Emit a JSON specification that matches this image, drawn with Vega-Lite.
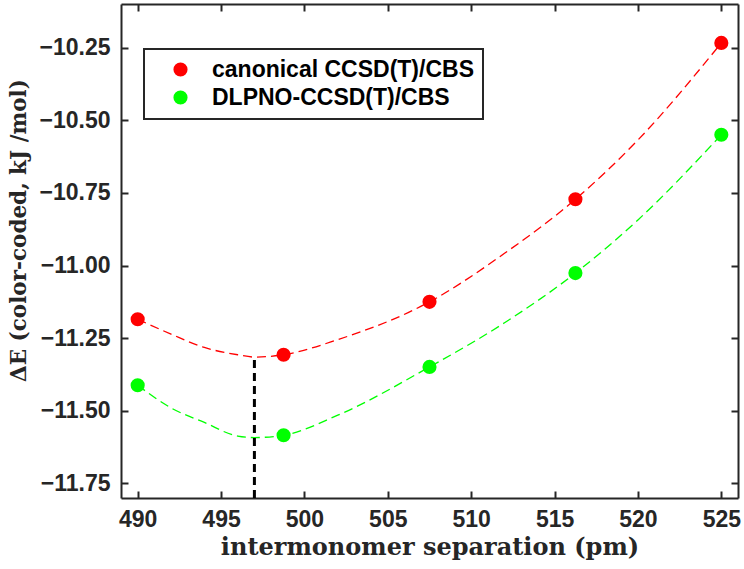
{
  "$schema": "https://vega.github.io/schema/vega-lite/v6.json",
  "width": 617,
  "height": 494,
  "autosize": {"type": "none"},
  "padding": {"left": 121, "top": 4, "right": 6, "bottom": 71},
  "background": "white",
  "config": {
    "view": {"stroke": null},
    "legend": {"strokeWidth": 2},
    "axis": {
      "domainColor": "#262626",
      "domainWidth": 2,
      "tickColor": "#262626",
      "tickWidth": 2,
      "tickSize": -7,
      "grid": false,
      "labelFont": "Liberation Sans",
      "labelFontWeight": "bold",
      "labelFontSize": 23,
      "labelColor": "#262626",
      "titleFont": "DejaVu Serif",
      "titleFontWeight": "bold",
      "titleFontSize": 22,
      "titleColor": "#262626"
    }
  },
  "datasets": {
    "points": [
      {"sep": 490.0, "dE": -11.185, "method": "canonical CCSD(T)/CBS"},
      {"sep": 498.75, "dE": -11.307, "method": "canonical CCSD(T)/CBS"},
      {"sep": 507.5, "dE": -11.125, "method": "canonical CCSD(T)/CBS"},
      {"sep": 516.25, "dE": -10.772, "method": "canonical CCSD(T)/CBS"},
      {"sep": 525.0, "dE": -10.234, "method": "canonical CCSD(T)/CBS"},
      {"sep": 490.0, "dE": -11.412, "method": "DLPNO-CCSD(T)/CBS"},
      {"sep": 498.75, "dE": -11.584, "method": "DLPNO-CCSD(T)/CBS"},
      {"sep": 507.5, "dE": -11.349, "method": "DLPNO-CCSD(T)/CBS"},
      {"sep": 516.25, "dE": -11.026, "method": "DLPNO-CCSD(T)/CBS"},
      {"sep": 525.0, "dE": -10.55, "method": "DLPNO-CCSD(T)/CBS"}
    ],
    "curves": [
      {"sep": 490, "dE": -11.185, "method": "canonical CCSD(T)/CBS"},
      {"sep": 492, "dE": -11.236, "method": "canonical CCSD(T)/CBS"},
      {"sep": 494, "dE": -11.282, "method": "canonical CCSD(T)/CBS"},
      {"sep": 496, "dE": -11.307, "method": "canonical CCSD(T)/CBS"},
      {"sep": 497, "dE": -11.315, "method": "canonical CCSD(T)/CBS"},
      {"sep": 498.75, "dE": -11.307, "method": "canonical CCSD(T)/CBS"},
      {"sep": 502, "dE": -11.255, "method": "canonical CCSD(T)/CBS"},
      {"sep": 507.5, "dE": -11.125, "method": "canonical CCSD(T)/CBS"},
      {"sep": 512, "dE": -10.958, "method": "canonical CCSD(T)/CBS"},
      {"sep": 516.25, "dE": -10.772, "method": "canonical CCSD(T)/CBS"},
      {"sep": 520, "dE": -10.568, "method": "canonical CCSD(T)/CBS"},
      {"sep": 525, "dE": -10.234, "method": "canonical CCSD(T)/CBS"},
      {"sep": 490, "dE": -11.412, "method": "DLPNO-CCSD(T)/CBS"},
      {"sep": 492, "dE": -11.49, "method": "DLPNO-CCSD(T)/CBS"},
      {"sep": 494, "dE": -11.54, "method": "DLPNO-CCSD(T)/CBS"},
      {"sep": 496, "dE": -11.587, "method": "DLPNO-CCSD(T)/CBS"},
      {"sep": 497, "dE": -11.592, "method": "DLPNO-CCSD(T)/CBS"},
      {"sep": 498.75, "dE": -11.584, "method": "DLPNO-CCSD(T)/CBS"},
      {"sep": 502, "dE": -11.515, "method": "DLPNO-CCSD(T)/CBS"},
      {"sep": 507.5, "dE": -11.349, "method": "DLPNO-CCSD(T)/CBS"},
      {"sep": 512, "dE": -11.197, "method": "DLPNO-CCSD(T)/CBS"},
      {"sep": 516.25, "dE": -11.026, "method": "DLPNO-CCSD(T)/CBS"},
      {"sep": 520, "dE": -10.843, "method": "DLPNO-CCSD(T)/CBS"},
      {"sep": 525, "dE": -10.55, "method": "DLPNO-CCSD(T)/CBS"}
    ],
    "minline": [
      {"sep": 497, "lo": -11.8, "hi": -11.317}
    ]
  },
  "layer": [
    {
      "data": {"name": "curves"},
      "mark": {"type": "line", "interpolate": "monotone", "strokeWidth": 1.3, "strokeDash": [9, 5]},
      "encoding": {
        "x": {"field": "sep", "type": "quantitative", "scale": {"domain": [489, 526], "nice": false, "zero": false},
              "axis": {"orient": "top", "values": [490, 495, 500, 505, 510, 515, 520, 525], "labels": false, "title": null}},
        "y": {"field": "dE", "type": "quantitative", "scale": {"domain": [-11.8, -10.1], "nice": false, "zero": false},
              "axis": {"orient": "right", "values": [-11.75, -11.5, -11.25, -11, -10.75, -10.5, -10.25], "labels": false, "title": null}},
        "color": {"field": "method", "type": "nominal",
                  "scale": {"domain": ["canonical CCSD(T)/CBS", "DLPNO-CCSD(T)/CBS"], "range": ["#ff0000", "#00ff00"]},
                  "legend": null},
        "detail": {"field": "method"}
      }
    },
    {
      "data": {"name": "minline"},
      "mark": {"type": "rule", "color": "black", "strokeWidth": 3, "strokeDash": [8, 5]},
      "encoding": {
        "x": {"field": "sep", "type": "quantitative", "axis": null},
        "y": {"field": "lo", "type": "quantitative", "axis": null},
        "y2": {"field": "hi"}
      }
    },
    {
      "data": {"name": "points"},
      "mark": {"type": "circle", "size": 200, "opacity": 1},
      "encoding": {
        "x": {"field": "sep", "type": "quantitative",
              "axis": {"orient": "bottom", "values": [490, 495, 500, 505, 510, 515, 520, 525], "labelPadding": 17,
                       "title": "intermonomer separation (pm)", "titlePadding": 4, "titleFontSize": 24}},
        "y": {"field": "dE", "type": "quantitative",
              "axis": {"orient": "left", "values": [-11.75, -11.5, -11.25, -11, -10.75, -10.5, -10.25], "format": ".2f",
                       "labelPadding": 18, "title": "ΔE (color-coded, kJ /mol)", "titlePadding": 9, "titleFontSize": 21.5, "titleY": 226}},
        "color": {"field": "method", "type": "nominal",
                  "scale": {"domain": ["canonical CCSD(T)/CBS", "DLPNO-CCSD(T)/CBS"], "range": ["#ff0000", "#00ff00"]},
                  "legend": {
                    "title": null,
                    "orient": "none",
                    "legendX": 23,
                    "legendY": 45,
                    "strokeColor": "#262626",
                    "fillColor": "white",
                    "padding": 9,
                    "symbolType": "circle",
                    "symbolSize": 200,
                    "symbolStrokeWidth": 0,
                    "symbolOpacity": 1,
                    "symbolOffset": 16,
                    "labelFont": "Liberation Sans",
                    "labelFontWeight": "bold",
                    "labelFontSize": 23,
                    "labelColor": "black",
                    "labelOffset": 20,
                    "rowPadding": 4,
                    "labelLimit": 400
                  }}
      }
    }
  ],
  "resolve": {"axis": {"x": "independent", "y": "independent"}, "scale": {"color": "independent"}}
}
